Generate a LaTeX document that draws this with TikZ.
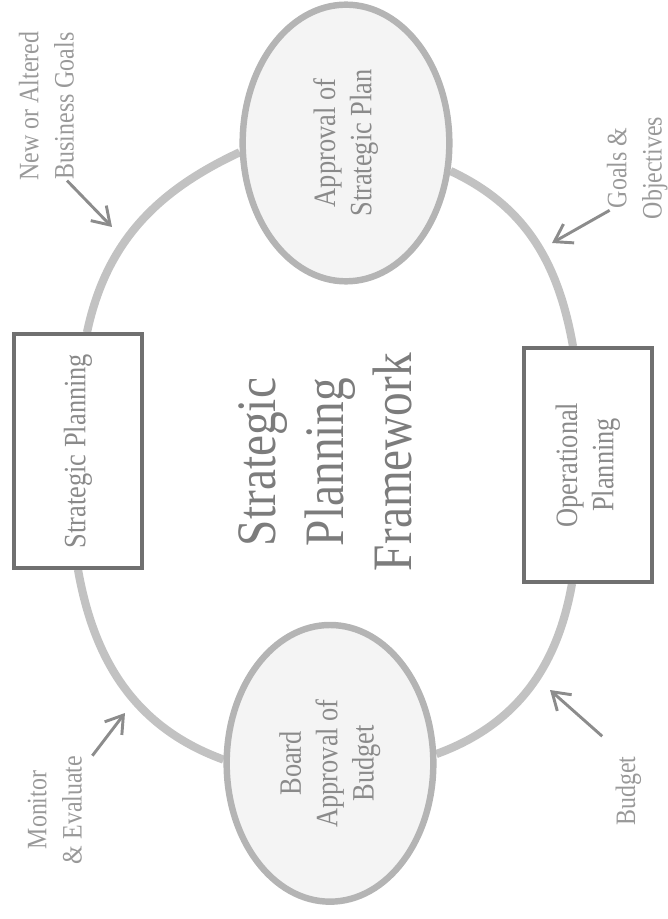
\documentclass[tikz,border=0pt]{standalone}
\usepackage{fontspec}
\setmainfont{Liberation Serif}[FakeStretch=0.85]
\usetikzlibrary{arrows.meta,shapes.geometric,backgrounds}
\definecolor{ringgray}{HTML}{C2C2C2}
\definecolor{ovalgray}{HTML}{B4B4B4}
\definecolor{ovalfill}{HTML}{F4F4F4}
\definecolor{boxgray}{HTML}{707070}
\definecolor{textgray}{HTML}{8A8A8A}
\definecolor{titlegray}{HTML}{7C7C7C}
\definecolor{labelgray}{HTML}{999999}
\definecolor{arrowgray}{HTML}{8C8C8C}
\newcommand{\vtext}[1]{\rotatebox{90}{\begin{tabular}{@{}c@{}}#1\end{tabular}}}

\begin{document}
\begin{tikzpicture}[
    boxnode/.style={draw=boxgray, line width=3.4pt, fill=white, minimum width=3.85cm, minimum height=7cm, inner sep=0pt, text=textgray, font=\fontsize{26.5}{31}\selectfont},
    ovalnode/.style={ellipse, draw=ovalgray, line width=5.5pt, fill=ovalfill, minimum width=6.2cm, minimum height=8.3cm, inner sep=0pt, text=textgray, font=\fontsize{26.5}{31}\selectfont},
    lbl/.style={inner sep=0pt, text=labelgray, font=\fontsize{24}{30}\selectfont},
    ring/.style={line width=7pt, ringgray},
    arr/.style={-{Straight Barb[length=5mm,width=6.5mm]}, line width=2.5pt, arrowgray}
]
\useasboundingbox (-10.02,-13.77) rectangle (10.02,13.8);

\node[boxnode] (strat) at (-7.68,0.27) {\vtext{Strategic Planning}};
\node[ovalnode] (appr) at (0.36,9.51) {\vtext{Approval of\\Strategic Plan}};
\node[boxnode] (oper) at (7.62,-0.15) {\vtext{Operational\\Planning}};
\node[ovalnode] (board) at (-0.12,-9.1) {\vtext{Board\\Approval of\\Budget}};
\node[text=titlegray, font=\fontsize{47.5}{58}\selectfont] (title) at (-0.12,-0.06) {\vtext{Strategic\\Planning\\Framework}};

\begin{scope}[on background layer]
\draw[ring] ([xshift=2.7mm]strat.north) to[out=78,in=205] (appr.185);
\draw[ring] (appr.345) to[out=-25,in=100] ([xshift=-4.5mm]oper.north);
\draw[ring] ([xshift=-4.8mm]oper.south) to[out=-100,in=20] (board.5);
\draw[ring] (board.178) to[out=160,in=-80] (strat.south);
\end{scope}

\node[lbl] (newlbl) at (-8.55,10.62) {\vtext{New or Altered\\Business Goals}};
\node[lbl] (objlbl) at (9.09,8.76) {\vtext{Goals \&\\Objectives}};
\node[lbl] (monlbl) at (-8.31,-10.5) {\vtext{Monitor\\\& Evaluate}};
\node[lbl] (budlbl) at (8.82,-9.93) {\vtext{Budget}};

\coordinate (newtip) at (-6.66,6.99);
\coordinate (objtip) at (6.54,6.51);
\coordinate (montip) at (-6.27,-7.59);
\coordinate (budtip) at (6.48,-6.9);

\draw[arr] ([xshift=5.4mm]newlbl.south) -- (newtip);
\draw[arr] ([shift={(0.24,0.27)}]objlbl.south west) -- (objtip);
\draw[arr] (monlbl.north east) -- (montip);
\draw[arr] ([shift={(-0.24,0.6)}]budlbl.north west) -- (budtip);
\end{tikzpicture}
\end{document}
